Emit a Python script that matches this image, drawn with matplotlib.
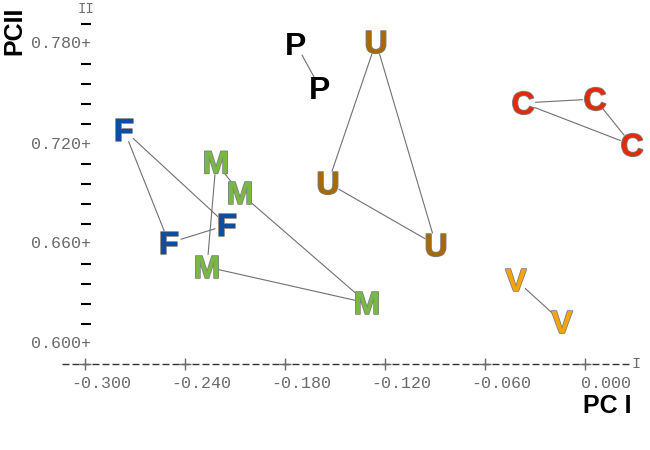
import matplotlib
matplotlib.use('Agg')
import matplotlib.pyplot as plt
import matplotlib.patheffects as pe
import matplotlib.transforms as mtransforms

# group labels, colours and point coordinates (PC I, PC II), in outline order
groups = ['F', 'M', 'P', 'U', 'C', 'V']
colors = ['#0b4ea2', '#78b943', '#000000', '#a66a00', '#e32b0c', '#f5a50a']
f_x = [-0.2766, -0.2496, -0.2148]
f_y = [0.7284, 0.6606, 0.6714]
m_x = [-0.2214, -0.2070, -0.1308, -0.2268]
m_y = [0.7090, 0.6906, 0.6246, 0.6462]
p_x = [-0.1734, -0.1590]
p_y = [0.7800, 0.7536]
u_x = [-0.1254, -0.1542, -0.0894]
u_y = [0.7812, 0.6966, 0.6594]
c_x = [-0.0372, 0.0060, 0.0282]
c_y = [0.7446, 0.7470, 0.7194]
v_x = [-0.0414, -0.0138]
v_y = [0.6384, 0.6132]
xs = [f_x, m_x, p_x, u_x, c_x, v_x]
ys = [f_y, m_y, p_y, u_y, c_y, v_y]

xticks = [-0.300, -0.240, -0.180, -0.120, -0.060, 0.000]
yticks = [0.600, 0.660, 0.720, 0.780]

px = 0.0006  # data units per pixel (same on both axes)
x_axis_y = 0.588
y_axis_x = -0.2994
mono = 'Liberation Mono'
sans = 'Liberation Sans'
grey = '#6a6a6a'

fig = plt.figure(figsize=(6.5, 4.5), dpi=100)
ax = fig.add_axes([0, 0, 1, 1])
ax.set_xlim(-0.351, 0.039)
ax.set_ylim(0.5364, 0.8064)
ax.axis('off')

# text-style x axis: dashes with + at the ticks
ax.plot([-0.3138, 0.0282], [x_axis_y, x_axis_y], color='#333333', lw=1,
        ls=(0, (5, 2.2)))
ax.plot(xticks, [x_axis_y] * len(xticks), '+', ms=8, mew=1, color=grey)
ax.text(0.0306, x_axis_y, 'I', family=mono, size=11, color=grey,
        ha='center', va='center')
for t in xticks:
    ax.text(t - 14 * px, 0.5766, f'{t:6.3f}', family=mono, size=12,
            color=grey, ha='left', va='center')

# text-style y axis: - at minor steps, "value+" at majors
minor = [t + k * 0.012 for t in yticks for k in range(1, 5)]
minor = [m for m in minor if m < 0.80]
ax.plot([y_axis_x] * len(minor), minor, '_', ms=7, mew=1.5, color='black')
for t in yticks:
    ax.text(y_axis_x + 5 * px, t, f'{t:.3f}+', family=mono, size=12,
            color=grey, ha='right', va='center')
ax.text(y_axis_x, 0.801, 'II', family=mono, size=10, color=grey,
        ha='center', va='center')

ax.text(-0.3426, 0.7878, 'PCII', family=sans, weight='bold', size=18,
        rotation=90, ha='center', va='center')
ax.text(0.0132, 0.5628, 'PC I', family=sans, weight='bold', size=18,
        ha='center', va='center')

# outlines joining the points of each group
for gx, gy in zip(xs, ys):
    n = len(gx)
    pairs = [(i, (i + 1) % n) for i in range(n)] if n > 2 else [(0, 1)]
    for i, j in pairs:
        ax.annotate('', xy=(gx[j], gy[j]), xytext=(gx[i], gy[i]),
                    arrowprops=dict(arrowstyle='-', color='#707070', lw=0.8,
                                    shrinkA=9, shrinkB=9))

# letters at the points (nudged so the glyph, not the line box, is centred)
letter_tr = mtransforms.offset_copy(ax.transData, fig=fig, y=-3, units='dots')
for name, col, gx, gy in zip(groups, colors, xs, ys):
    effects = [] if name == 'P' else [pe.withStroke(linewidth=1.2, foreground='#808080')]
    for x, y in zip(gx, gy):
        ax.text(x, y, name, family=sans, weight='bold', size=23, color=col,
                ha='center', va='center', path_effects=effects,
                transform=letter_tr)

fig.savefig('out.png', dpi=100)
